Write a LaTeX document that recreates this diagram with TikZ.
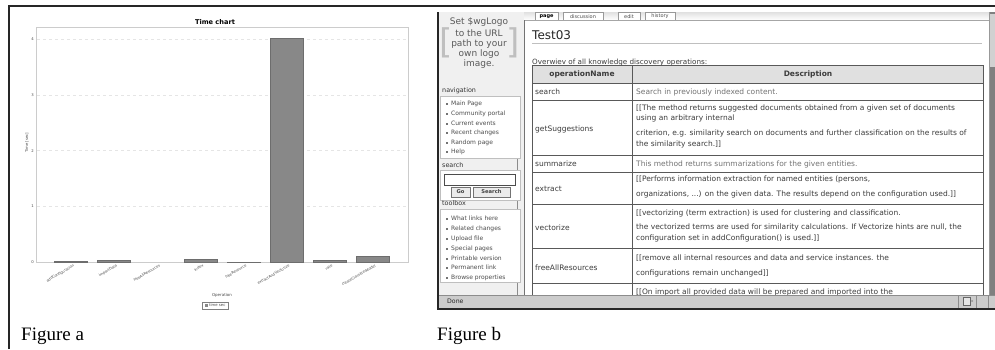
\documentclass[tikz,border=0pt]{standalone}
\usepackage{fontspec}
\setmainfont{Liberation Serif}
\newfontfamily\wf{DejaVu Sans}
\newcommand\myfs[1]{\fontsize{#1}{#1}\selectfont}
\definecolor{barc}{RGB}{136,136,136}
\definecolor{txt}{RGB}{60,60,60}
\tikzset{
  wt/.style={font={\wf\myfs{7.5}}, inner sep=0pt, anchor=base west, text=txt},
  wtl/.style={wt, text=black!55},
  hd/.style={font={\wf\bfseries\myfs{7.5}}, inner sep=0pt, text=txt},
  sbi/.style={font={\wf\myfs{6}}, inner sep=0pt, anchor=base west, text=black!70},
  sbh/.style={font={\wf\myfs{6.4}}, inner sep=0pt, anchor=base west, text=black!80},
  portlet/.style={draw=black!25, fill=white, line width=0.5pt},
  tabbox/.style={draw=black!40, fill=white, line width=0.5pt},
  btn/.style={draw=black!55, fill=black!8, line width=0.5pt},
  tline/.style={draw=black!65, line width=0.7pt},
  captxt/.style={font={\myfs{19}}, inner sep=0pt, anchor=base west},
  tck/.style={font={\wf\myfs{3.8}}, inner sep=0pt, text=black!70},
  xlab/.style={font={\wf\myfs{3.6}}, inner sep=0pt, text=black!70, anchor=north east, rotate=30},
  barbox/.style={fill=barc, draw=barc!80!black, line width=0.3pt},
  gridl/.style={draw=black!10, dashed, line width=0.3pt},
  frm/.style={draw=black!85, line width=1.3pt}
}
\begin{document}
\begin{tikzpicture}[x=1pt,y=-1pt]
\useasboundingbox (0,0) rectangle (995,349);
\fill[white] (0,0) rectangle (995,349);

% ================= Figure a =================
\draw[frm] (9,349) -- (9,6) -- (995,6);
\node[font={\wf\bfseries\myfs{6.6}}, inner sep=0pt] (title) at (215,22) {Time chart};
\draw[draw=black!20, line width=0.5pt, fill=white] (36,27) rectangle (408,262);
\foreach \yy in {206,150.5,95,39} \draw[gridl] (37,\yy) -- (407,\yy);
\foreach \v/\yy in {0/262,1/206.3,2/150.6,3/94.9,4/39.2}
  \node[tck, anchor=east] (yt\v) at (34,\yy) {\v};
\node[tck, rotate=90] (ylab) at (27,143) {Time [sec]};
\foreach \i/\h/\lab in {1/0.012/addConfiguration,2/0.03/importData,3/0/freeAllResources,4/0.06/index,5/0.006/freeResource,6/4.01/extractAndVectorize,7/0.03/rate,8/0.1/createClassifierModel}{
  \pgfmathsetmacro\cx{71+43.1*(\i-1)}
  \pgfmathsetmacro\ty{262-55.7*\h}
  \ifdim\h pt>0pt
    \draw[barbox] (\cx-16.5,262) rectangle (\cx+16.5,\ty);
  \fi
  \node[xlab] (xl\i) at (\cx+2,264) {\lab};
}
\node[tck, font={\wf\myfs{4}}] (oplab) at (222,295) {Operation};
\draw[draw=black!50, line width=0.4pt] (202,302) rectangle (228,309);
\fill[barc] (204.5,304) rectangle (207.5,307);
\node[tck, anchor=west, font={\wf\myfs{3.8}}] (legt) at (209,305.5) {time sec};
\node[captxt] (capa) at (21,340) {Figure a};

% ================= Figure b =================
% backgrounds
\fill[black!6] (438,12) rectangle (524,295);
\fill[white] (524,20) rectangle (989,295);
\shade[top color=black!12, bottom color=white] (524,12) rectangle (989,20);
% logo
\node[font={\wf\myfs{34}}, text=black!25, inner sep=0pt] (lbr) at (446,43) {[};
\node[font={\wf\myfs{34}}, text=black!25, inner sep=0pt] (rbr) at (513,43) {]};
\foreach \t/\yy in {Set \$wgLogo/22,to the URL/33,path to your/44,own logo/54,image./64}
  \node[font={\wf\myfs{9}}, text=black!65, inner sep=0pt] at (479,\yy) {\t};
% tabs
\draw[tabbox] (535,12.5) rectangle (558,20);
\node[font={\wf\bfseries\myfs{5}}, inner sep=0pt] (tpage) at (546.5,16.3) {page};
\draw[tabbox] (563,12.5) rectangle (603,20);
\node[font={\wf\myfs{5}}, inner sep=0pt, text=black!70] (tdisc) at (583,16.3) {discussion};
\draw[tabbox] (618,12.5) rectangle (640,20);
\node[font={\wf\myfs{5}}, inner sep=0pt, text=black!70] (tedit) at (629,16.3) {edit};
\draw[tabbox] (645,12.5) rectangle (675,20);
\node[font={\wf\myfs{5}}, inner sep=0pt, text=black!70] (thist) at (660,16.3) {history};
\draw[black!35, line width=0.5pt] (524,20) -- (989,20);
\draw[black!45, line width=0.6pt] (517,100) -- (517,295);
\draw[black!55, line width=0.6pt] (524.5,20) -- (524.5,295);
% heading
\node[font={\wf\myfs{12}}, inner sep=0pt, anchor=base west, text=black!85] (h1) at (532,39.5) {Test03};
\draw[black!25, line width=0.5pt] (532,43.5) -- (982,43.5);
\node[wt, font={\wf\myfs{7.2}}] (intro) at (532,64.5) {Overwiev of all knowledge discovery operations:};
% table
\fill[black!12] (532,65) rectangle (983,83);
\draw[tline] (532,65) rectangle (983,299);
\draw[tline] (632,65) -- (632,299);
\foreach \yy in {83,100,155,172,204,248,283} \draw[tline] (532,\yy) -- (983,\yy);
\node[hd] (hop) at (582,74) {operationName};
\node[hd] (hdesc) at (808,74) {Description};
\node[wt] (r1) at (535,94) {search};
\node[wtl] (d1) at (636,94) {Search in previously indexed content.};
\node[wt] (r2) at (535,131) {getSuggestions};
\node[wt] (d2a) at (636,110) {[[The method returns suggested documents obtained from a given set of documents};
\node[wt] (d2b) at (636,120) {using an arbitrary internal};
\node[wt] (d2c) at (636,135) {criterion, e.g. similarity search on documents and further classification on the results of};
\node[wt] (d2d) at (636,146) {the similarity search.]]};
\node[wt] (r3) at (535,166) {summarize};
\node[wtl] (d3) at (636,166) {This method returns summarizations for the given entities.};
\node[wt] (r4) at (535,191) {extract};
\node[wt] (d4a) at (636,181) {[[Performs information extraction for named entities (persons,};
\node[wt] (d4b) at (636,196) {organizations, ...) on the given data. The results depend on the configuration used.]]};
\node[wt] (r5) at (535,230) {vectorize};
\node[wt] (d5a) at (636,215) {[[vectorizing (term extraction) is used for clustering and classification.};
\node[wt] (d5b) at (636,229) {the vectorized terms are used for similarity calculations. If Vectorize hints are null, the};
\node[wt] (d5c) at (636,240) {configuration set in addConfiguration() is used.]]};
\node[wt] (r6) at (535,270) {freeAllResources};
\node[wt] (d6a) at (636,260) {[[remove all internal resources and data and service instances. the};
\node[wt] (d6b) at (636,275) {configurations remain unchanged]]};
\node[wt] (d7a) at (636,294) {[[On import all provided data will be prepared and imported into the};
% sidebar
\node[sbh] (nav) at (442,92) {navigation};
\draw[portlet] (440,96) rectangle (520,158);
\foreach \t/\yy in {Main Page/105,Community portal/115,Current events/125,Recent changes/134,Random page/144,Help/153}{
  \fill[black!55] (446,\yy-1.8) rectangle (447.6,\yy-0.2);
  \node[sbi] at (451,\yy) {\t};
}
\node[sbh] (srch) at (442,167) {search};
\draw[portlet] (440,170) rectangle (520,200);
\draw[draw=black!70, fill=white, line width=0.6pt] (444,174) rectangle (515,185);
\draw[btn] (451,187) rectangle (470,197);
\node[font={\wf\bfseries\myfs{5.2}}, inner sep=0pt, text=black!75] (bgo) at (460.5,192) {Go};
\draw[btn] (473,187) rectangle (510,197);
\node[font={\wf\bfseries\myfs{5.2}}, inner sep=0pt, text=black!75] (bsr) at (491.5,192) {Search};
\node[sbh] (tbx) at (442,205) {toolbox};
\draw[portlet] (440,209) rectangle (520,282);
\foreach \t/\yy in {What links here/220,Related changes/230,Upload file/240,Special pages/250,Printable version/260,Permanent link/269,Browse properties/279}{
  \fill[black!55] (446,\yy-1.8) rectangle (447.6,\yy-0.2);
  \node[sbi] at (451,\yy) {\t};
}
% scrollbar
\fill[black!50] (989,12) rectangle (995,295);
\fill[black!18] (989,14) rectangle (995,67);
\draw[black!40, line width=0.4pt] (989,12) -- (989,295);
% status bar
\fill[black!20] (438,295) rectangle (995,309);
\draw[black!45, line width=0.5pt] (438,295) -- (995,295);
\node[font={\wf\myfs{6.2}}, inner sep=0pt, anchor=west, text=black!85] (done) at (447,301.5) {Done};
\draw[black!45, line width=0.5pt] (958,296) -- (958,308);
\draw[black!60, fill=black!10, line width=0.4pt] (963,297) rectangle (970,305);
\fill[black!60] (971.5,300) -- (973,301) -- (971.5,302) -- cycle;
\draw[black!45, line width=0.5pt] (976,296) -- (976,308);
\draw[black!45, line width=0.5pt] (988,296) -- (988,308);
% screenshot frame
\draw[frm, line width=1.6pt] (438,12) -- (438,309) -- (995,309);
\node[captxt] (capb) at (437,340) {Figure b};
\end{tikzpicture}
\end{document}
